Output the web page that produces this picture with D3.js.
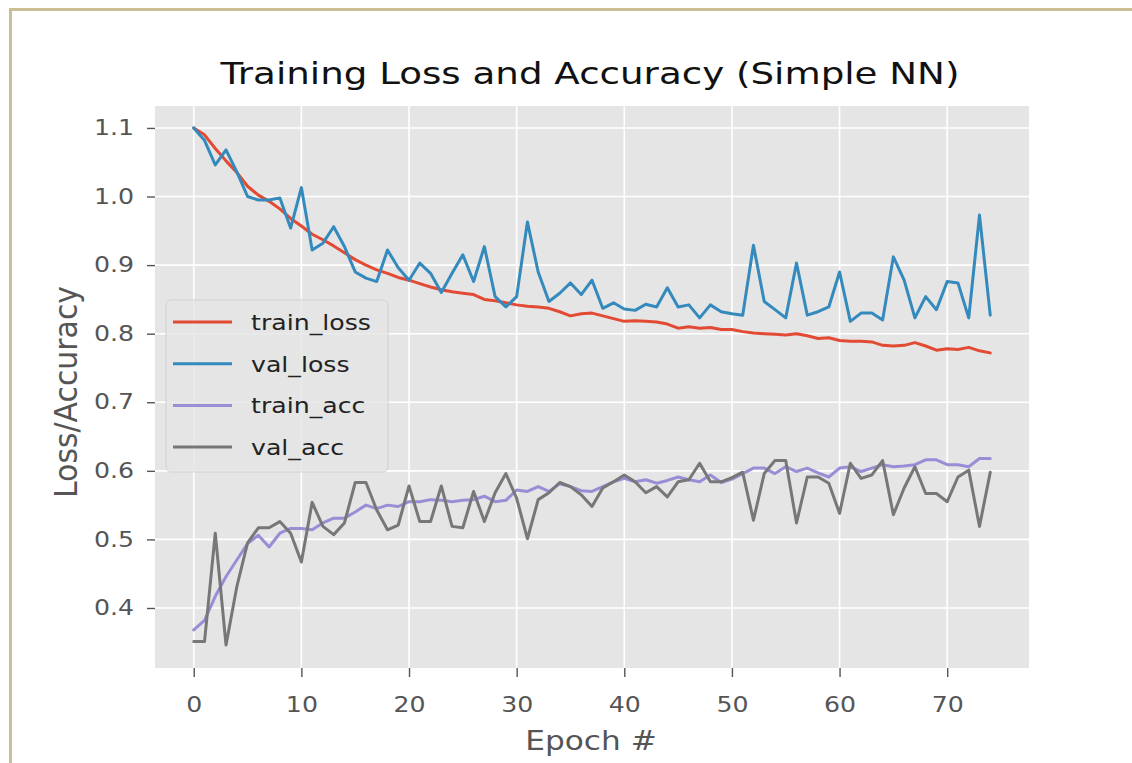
<!DOCTYPE html>
<html lang="en">
<head>
  <meta charset="UTF-8">
  <title>Training Loss and Accuracy (Simple NN)</title>
  <style>
    body {
      margin: 0;
      padding: 0;
      background: #fff;
    }
    svg {
      display: block;
    }
    text {
      font-family: 'DejaVu Sans', sans-serif;
    }
    .grid line {
      stroke: #fff;
      stroke-width: 1.6px;
    }
    .axis path {
      display: none;
    }
    .axis line {
      stroke: #555;
      stroke-width: 1.4px;
    }
    .axis text {
      fill: #555;
      font-size: 21px;
    }
    .series {
      fill: none;
      stroke-width: 3px;
      stroke-linejoin: round;
      stroke-linecap: round;
    }
  </style>
</head>
<body>
  <svg width="1132" height="763"></svg>

  <script src="https://d3js.org/d3.v7.min.js"></script>
  <script>
    // values, one per epoch (0..74)
    const trainLoss = [
      1.100, 1.090, 1.070, 1.052, 1.035, 1.015, 1.002, 0.993, 0.982, 0.968,
      0.957, 0.945, 0.937, 0.928, 0.918, 0.908, 0.900, 0.893, 0.888, 0.882,
      0.878, 0.873, 0.868, 0.864, 0.861, 0.859, 0.857, 0.850, 0.848, 0.845,
      0.842, 0.840, 0.839, 0.837, 0.832, 0.826, 0.829, 0.830, 0.826, 0.822,
      0.818, 0.819, 0.818, 0.817, 0.814, 0.808, 0.810, 0.808, 0.809, 0.806,
      0.806, 0.803, 0.801, 0.800, 0.799, 0.798, 0.800, 0.797, 0.793, 0.794,
      0.790, 0.789, 0.789, 0.788, 0.783, 0.782, 0.783, 0.787, 0.782, 0.776,
      0.778, 0.777, 0.780, 0.775, 0.772
    ];
    const valLoss = [
      1.100, 1.082, 1.046, 1.068, 1.036, 1.000, 0.995, 0.995, 0.998, 0.954,
      1.013, 0.922, 0.932, 0.956, 0.927, 0.890, 0.881, 0.876, 0.922, 0.896,
      0.878, 0.903, 0.888, 0.860, 0.888, 0.915, 0.876, 0.927, 0.854, 0.839,
      0.854, 0.963, 0.890, 0.847, 0.859, 0.874, 0.857, 0.878, 0.837, 0.845,
      0.836, 0.834, 0.843, 0.839, 0.867, 0.839, 0.842, 0.823, 0.842, 0.832,
      0.829, 0.827, 0.929, 0.847, 0.835, 0.823, 0.903, 0.827, 0.832, 0.839,
      0.890, 0.818, 0.830, 0.830, 0.820, 0.912, 0.878, 0.823, 0.854, 0.835,
      0.876, 0.874, 0.823, 0.973, 0.827
    ];
    const trainAcc = [
      0.368, 0.382, 0.417, 0.446, 0.470, 0.494, 0.506, 0.489, 0.509, 0.516,
      0.516, 0.514, 0.524, 0.531, 0.531, 0.540, 0.550, 0.545, 0.550, 0.548,
      0.555, 0.555, 0.558, 0.557, 0.555, 0.557, 0.558, 0.563, 0.555, 0.557,
      0.572, 0.570, 0.577, 0.570, 0.581, 0.577, 0.571, 0.570, 0.577, 0.584,
      0.589, 0.584, 0.587, 0.582, 0.586, 0.591, 0.587, 0.584, 0.594, 0.583,
      0.588, 0.596, 0.604, 0.604, 0.596, 0.606, 0.599, 0.604, 0.597, 0.591,
      0.604, 0.606, 0.599, 0.604, 0.609, 0.606, 0.607, 0.609, 0.616, 0.616,
      0.609, 0.609, 0.606, 0.618, 0.618
    ];
    const valAcc = [
      0.351, 0.351, 0.509, 0.346, 0.431, 0.495, 0.517, 0.517, 0.526, 0.509,
      0.467, 0.554, 0.519, 0.507, 0.524, 0.583, 0.583, 0.543, 0.514, 0.521,
      0.578, 0.526, 0.526, 0.578, 0.519, 0.517, 0.570, 0.526, 0.568, 0.596,
      0.560, 0.501, 0.558, 0.568, 0.583, 0.577, 0.565, 0.548, 0.575, 0.584,
      0.594, 0.584, 0.568, 0.577, 0.562, 0.584, 0.587, 0.611, 0.584, 0.584,
      0.590, 0.598, 0.528, 0.596, 0.615, 0.615, 0.524, 0.591, 0.591, 0.582,
      0.538, 0.611, 0.589, 0.594, 0.615, 0.536, 0.575, 0.606, 0.567, 0.567,
      0.555, 0.591, 0.601, 0.519, 0.598
    ];

    const seriesNames = ["train_loss", "val_loss", "train_acc", "val_acc"];
    const seriesColors = ["#E24A33", "#348ABD", "#988ED5", "#777777"];
    const xTicks = [0, 10, 20, 30, 40, 50, 60, 70];
    const yTicks = [0.4, 0.5, 0.6, 0.7, 0.8, 0.9, 1.0, 1.1];

    // the reference is stretched sideways, text included
    const sx = 1.2;
    const plotLeft = 155, plotRight = 1029, plotTop = 106, plotBottom = 668;

    const svg = d3.select("svg");

    const x = d3.scaleLinear().domain([-3.6, 77.6]).range([plotLeft, plotRight]);
    const y = d3.scaleLinear().domain([0.3125, 1.132]).range([plotBottom, plotTop]);

    // outer frame
    svg.append("path")
      .attr("d", "M9,9.5H1132M10.5,8V763")
      .attr("fill", "none")
      .attr("stroke", "#cbbf98")
      .attr("stroke-width", 3);

    svg.append("rect")
      .attr("x", plotLeft).attr("y", plotTop)
      .attr("width", plotRight - plotLeft).attr("height", plotBottom - plotTop)
      .attr("fill", "#E5E5E5");

    const grid = svg.append("g").attr("class", "grid");
    grid.selectAll(".gx")
      .data(xTicks)
      .enter().append("line")
      .attr("x1", d => x(d)).attr("x2", d => x(d))
      .attr("y1", plotTop).attr("y2", plotBottom);
    grid.selectAll(".gy")
      .data(yTicks)
      .enter().append("line")
      .attr("x1", plotLeft).attr("x2", plotRight)
      .attr("y1", d => y(d)).attr("y2", d => y(d));

    const xAxis = svg.append("g")
      .attr("class", "axis")
      .attr("transform", `translate(0,${plotBottom})`)
      .call(d3.axisBottom(x).tickValues(xTicks).tickSize(9).tickPadding(20));
    xAxis.selectAll("text").attr("transform", `scale(${sx},1)`);

    const yAxis = svg.append("g")
      .attr("class", "axis")
      .attr("transform", `translate(${plotLeft},0)`)
      .call(d3.axisLeft(y).tickValues(yTicks).tickSize(8).tickFormat(d3.format(".1f")));
    yAxis.selectAll("text")
      .attr("x", -21 / sx)
      .attr("transform", `scale(${sx},1)`);

    const line = d3.line()
      .x((d, i) => x(i))
      .y(d => y(d));

    [trainLoss, valLoss, trainAcc, valAcc].forEach((values, k) => {
      svg.append("path")
        .datum(values)
        .attr("class", "series")
        .attr("stroke", seriesColors[k])
        .attr("d", line);
    });

    // legend
    const legend = svg.append("g").attr("transform", "translate(166,300)");
    legend.append("rect")
      .attr("width", 222).attr("height", 172)
      .attr("rx", 5)
      .attr("fill", "#E5E5E5").attr("fill-opacity", 0.8)
      .attr("stroke", "#cccccc").attr("stroke-opacity", 0.8);
    const items = legend.selectAll(".item")
      .data(seriesNames)
      .enter().append("g")
      .attr("transform", (d, i) => `translate(0,${22 + i * 41.7})`);
    items.append("line")
      .attr("x1", 7).attr("x2", 66)
      .attr("stroke", (d, i) => seriesColors[i])
      .attr("stroke-width", 3);
    items.append("text")
      .attr("transform", `translate(85,8) scale(${sx},1)`)
      .attr("font-size", 21)
      .attr("fill", "#222")
      .text(d => d);

    svg.append("text")
      .attr("transform", `translate(590,84) scale(${sx},1)`)
      .attr("text-anchor", "middle")
      .attr("font-size", 31)
      .attr("fill", "#111")
      .text("Training Loss and Accuracy (Simple NN)");

    svg.append("text")
      .attr("transform", `translate(591,750) scale(${sx},1)`)
      .attr("text-anchor", "middle")
      .attr("font-size", 26)
      .attr("fill", "#555")
      .text("Epoch #");

    svg.append("text")
      .attr("transform", `translate(77,392) scale(${sx},1) rotate(-90)`)
      .attr("text-anchor", "middle")
      .attr("font-size", 26)
      .attr("textLength", 212)
      .attr("lengthAdjust", "spacingAndGlyphs")
      .attr("fill", "#555")
      .text("Loss/Accuracy");
  </script>
</body>
</html>
